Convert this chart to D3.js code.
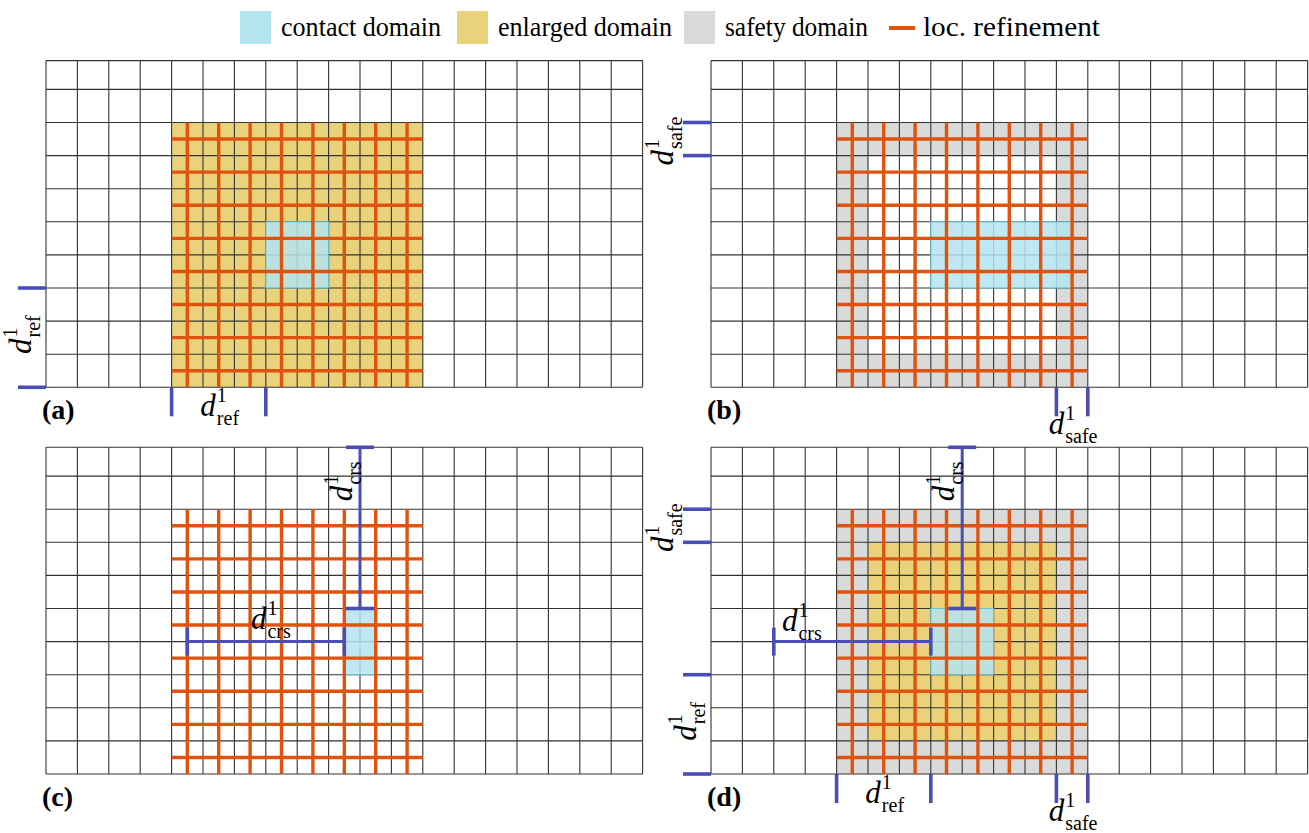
<!DOCTYPE html>
<html>
<head>
<meta charset="utf-8">
<script src="https://cdn.jsdelivr.net/npm/d3@7"></script>
<style>
  body { margin: 0; background: #fff; }
  svg { display: block; }
</style>
</head>
<body>
<script>
// ---- data ----
const legendLabels = ["contact domain", "enlarged domain", "safety domain", "loc. refinement"]
const panels = ["a", "b", "c", "d"]
const gridCols = 19
const gridRows = 10
// boxes in coarse-cell units: [col0, col1, row0, row1], rows counted from the top
const refinedBoxes = [
  { panel: "a", box: [4, 12, 2, 10] },
  { panel: "b", box: [4, 12, 2, 10] },
  { panel: "c", box: [4, 12, 2, 10] },
  { panel: "d", box: [4, 12, 2, 10] }
]
const enlargedBoxes = [
  { panel: "a", box: [4, 12, 2, 10] },
  { panel: "d", box: [5, 11, 3, 9] }
]
const safetyRings = [
  { panel: "b", outer: [4, 12, 2, 10], inner: [5, 11, 3, 9] },
  { panel: "d", outer: [4, 12, 2, 10], inner: [5, 11, 3, 9] }
]
const contactBoxes = [
  { panel: "a", box: [7, 9, 5, 7] },
  { panel: "b", box: [7, 11.5, 5, 7] },
  { panel: "c", box: [9.5, 10.5, 5, 7] },
  { panel: "d", box: [7, 9, 5, 7] }
]
// distance markers on the grid edge
const edgeMarks = [
  { panel: "a", side: "left", at: [7, 10], sub: "ref" },
  { panel: "a", side: "bottom", at: [4, 7], sub: "ref" },
  { panel: "b", side: "left", at: [2, 3], sub: "safe" },
  { panel: "b", side: "bottom", at: [11, 12], sub: "safe" },
  { panel: "d", side: "left", at: [2, 3], sub: "safe" },
  { panel: "d", side: "left", at: [7, 10], sub: "ref" },
  { panel: "d", side: "bottom", at: [4, 7], sub: "ref" },
  { panel: "d", side: "bottom", at: [11, 12], sub: "safe" }
]
// coarsening distances (dimension lines)
const crsDims = [
  { panel: "c", dir: "h", at: 6, from: 4.5, to: 9.5 },
  { panel: "c", dir: "v", at: 10, from: 0.13, to: 5 },
  { panel: "d", dir: "h", at: 6, from: 2, to: 7 },
  { panel: "d", dir: "v", at: 8, from: 0.13, to: 5 }
]

// ---- layout / style ----
const W = 1309, H = 833
const CW = 31.4, CH = 33.1
const TOP = 0.13 // top row is cut a little
const ORIGIN = { a: [46, 387.3], b: [711, 387.3], c: [46, 774], d: [711, 774] }
const COL = {
  contact: "#b4e4f0",
  contactEdge: "#63c4cc",
  enlarged: "#e9d279",
  safety: "#d9dada",
  refine: "#e0530f",
  dim: "#4b4db6",
  grid: "#333333"
}
const SERIF = "'Liberation Serif', 'Times New Roman', serif"

const svg = d3.select("body").append("svg")
  .attr("width", W)
  .attr("height", H)
  .style("font-family", SERIF)

// d^1_sub with the 1 and the subscript stacked
function dLabel(text, sub) {
  text.append("tspan").attr("font-style", "italic").attr("font-size", 31).text("d")
  text.append("tspan").attr("font-size", 20).attr("dx", 1).attr("dy", -14).text("1")
  text.append("tspan").attr("font-size", 20).attr("dx", -10).attr("dy", 23).text(sub)
}

function rectOf(x, y, b) {
  return { x: x(b[0]), y: y(b[2]), width: x(b[1]) - x(b[0]), height: y(b[3]) - y(b[2]) }
}

panels.forEach(p => {
  const [x0, yb] = ORIGIN[p]
  const x = d3.scaleLinear().domain([0, gridCols]).range([x0, x0 + gridCols * CW])
  const y = d3.scaleLinear().domain([0, gridRows]).range([yb - gridRows * CH, yb])
  const g = svg.append("g").attr("class", "panel-" + p)

  // safety ring
  safetyRings.filter(d => d.panel === p).forEach(d => {
    const o = d.outer, i = d.inner
    const path = d3.path()
    path.rect(x(o[0]), y(o[2]), x(o[1]) - x(o[0]), y(o[3]) - y(o[2]))
    path.rect(x(i[0]), y(i[2]), x(i[1]) - x(i[0]), y(i[3]) - y(i[2]))
    g.append("path").attr("d", path.toString())
      .attr("fill", COL.safety).attr("fill-rule", "evenodd")
  })

  // enlarged domain
  enlargedBoxes.filter(d => d.panel === p).forEach(d => {
    const r = rectOf(x, y, d.box)
    g.append("rect").attr("x", r.x).attr("y", r.y).attr("width", r.width).attr("height", r.height)
      .attr("fill", COL.enlarged)
  })

  // coarse grid
  g.append("g").selectAll("line").data(d3.range(0, gridCols + 1)).join("line")
    .attr("x1", d => x(d)).attr("x2", d => x(d))
    .attr("y1", y(TOP)).attr("y2", y(gridRows))
    .attr("stroke", COL.grid).attr("stroke-width", 1.1)
  g.append("g").selectAll("line").data([TOP].concat(d3.range(1, gridRows + 1))).join("line")
    .attr("x1", x(0)).attr("x2", x(gridCols))
    .attr("y1", d => y(d)).attr("y2", d => y(d))
    .attr("stroke", COL.grid).attr("stroke-width", 1.1)

  // contact domain
  contactBoxes.filter(d => d.panel === p).forEach(d => {
    const r = rectOf(x, y, d.box)
    g.append("rect").attr("x", r.x).attr("y", r.y).attr("width", r.width).attr("height", r.height)
      .attr("fill", COL.contact).attr("fill-opacity", 0.85)
      .attr("stroke", COL.contactEdge).attr("stroke-width", 1)
  })

  // local refinement lines
  refinedBoxes.filter(d => d.panel === p).forEach(d => {
    const [c0, c1, r0, r1] = d.box
    g.append("g").selectAll("line").data(d3.range(c0 + 0.5, c1, 1)).join("line")
      .attr("x1", v => x(v)).attr("x2", v => x(v))
      .attr("y1", y(r0)).attr("y2", y(r1))
      .attr("stroke", COL.refine).attr("stroke-width", 3.4)
    g.append("g").selectAll("line").data(d3.range(r0 + 0.5, r1, 1)).join("line")
      .attr("x1", x(c0)).attr("x2", x(c1))
      .attr("y1", v => y(v)).attr("y2", v => y(v))
      .attr("stroke", COL.refine).attr("stroke-width", 3.4)
  })

  // edge markers
  edgeMarks.filter(d => d.panel === p).forEach(d => {
    const safe = d.sub === "safe"
    if (d.side === "left") {
      g.append("g").selectAll("line").data(d.at).join("line")
        .attr("x1", x(0) - 28).attr("x2", x(0))
        .attr("y1", v => y(v)).attr("y2", v => y(v))
        .attr("stroke", COL.dim).attr("stroke-width", 3.6)
      const cy = (y(d.at[0]) + y(d.at[1])) / 2 + (safe ? 2 : -3)
      const bx = x(0) - (safe ? 38 : 15)
      const t = g.append("text").attr("text-anchor", "middle")
        .attr("transform", `translate(${bx},${cy}) rotate(-90)`)
      dLabel(t, d.sub)
    } else {
      g.append("g").selectAll("line").data(d.at).join("line")
        .attr("x1", v => x(v)).attr("x2", v => x(v))
        .attr("y1", y(gridRows)).attr("y2", y(gridRows) + 29)
        .attr("stroke", COL.dim).attr("stroke-width", 3.6)
      const cx = (x(d.at[0]) + x(d.at[1])) / 2 + 1
      const t = g.append("text").attr("text-anchor", "middle")
        .attr("x", cx).attr("y", y(gridRows) + (safe ? 47 : 29))
      dLabel(t, d.sub)
    }
  })

  // coarsening dimension lines
  crsDims.filter(d => d.panel === p).forEach(d => {
    const dg = g.append("g").attr("stroke", COL.dim).attr("stroke-width", 3.6)
    if (d.dir === "h") {
      const yy = y(d.at)
      dg.append("line").attr("x1", x(d.from)).attr("x2", x(d.to)).attr("y1", yy).attr("y2", yy)
        .attr("stroke-width", 3)
      dg.selectAll(".cap").data([d.from, d.to]).join("line")
        .attr("x1", v => x(v)).attr("x2", v => x(v))
        .attr("y1", yy - 14).attr("y2", yy + 14)
      const t = g.append("text").attr("text-anchor", "middle")
      if (p === "c") t.attr("x", (x(d.from) + x(d.to)) / 2 + 5).attr("y", yy - 13)
      else t.attr("x", x(d.from) + 28).attr("y", yy - 11)
      dLabel(t, "crs")
    } else {
      const xx = x(d.at)
      dg.append("line").attr("x1", xx).attr("x2", xx).attr("y1", y(d.from)).attr("y2", y(d.to))
        .attr("stroke-width", 3)
      dg.selectAll(".cap").data([d.from, d.to]).join("line")
        .attr("x1", xx - 14).attr("x2", xx + 14)
        .attr("y1", v => y(v)).attr("y2", v => y(v))
      const t = g.append("text").attr("text-anchor", "middle")
        .attr("transform", `translate(${xx - 8},${y(d.from) + 34}) rotate(-90)`)
      dLabel(t, "crs")
    }
  })

  // panel letter
  g.append("text").attr("x", x0 - 4).attr("y", yb + 32)
    .attr("font-weight", "bold").attr("font-size", 28)
    .text("(" + p + ")")
})

// ---- legend ----
const LEG_X = [240, 457, 684, 889]
const LEG_W = [160, 174, 143, 177]
const legend = svg.append("g")
legendLabels.forEach((label, i) => {
  const lx = LEG_X[i]
  if (i < 3) {
    legend.append("rect").attr("x", lx).attr("y", 11).attr("width", 31).attr("height", 33)
      .attr("fill", [COL.contact, COL.enlarged, COL.safety][i])
  } else {
    legend.append("line").attr("x1", lx).attr("x2", lx + 26).attr("y1", 28).attr("y2", 28)
      .attr("stroke", COL.refine).attr("stroke-width", 4)
  }
  legend.append("text").attr("x", lx + (i < 3 ? 41 : 34)).attr("y", 36)
    .attr("font-size", 27)
    .attr("textLength", LEG_W[i]).attr("lengthAdjust", "spacingAndGlyphs")
    .text(label)
})
</script>
</body>
</html>
